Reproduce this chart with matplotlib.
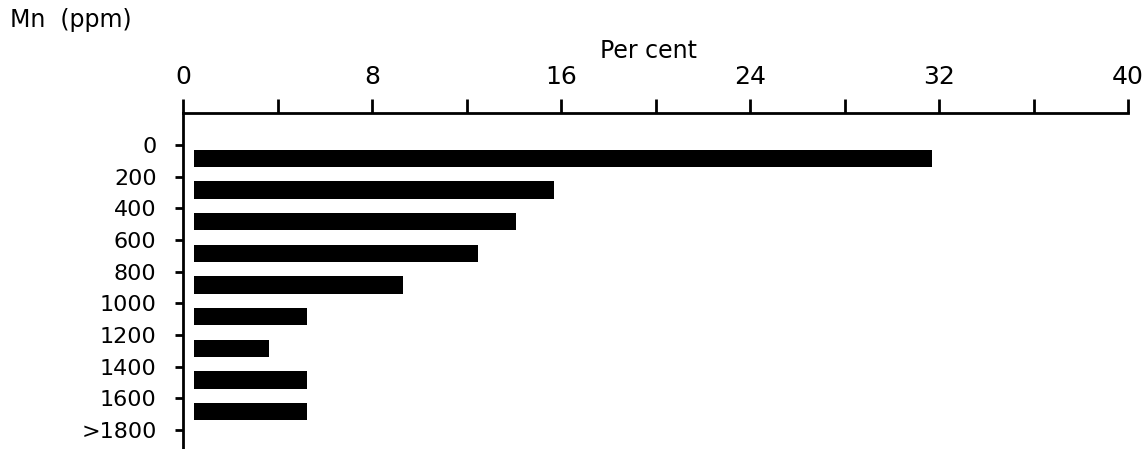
import matplotlib
matplotlib.use("Agg")
import matplotlib.pyplot as plt
import numpy as np

categories = ["0", "200", "400", "600", "800", "1000", "1200", "1400", "1600", ">1800"]
percent = [31.7, 15.7, 14.1, 12.5, 9.3, 5.25, 3.65, 5.25, 5.25]
x_ticks = [0, 8, 16, 24, 32, 40]

plt.rcParams['font.family'] = ['DejaVu Sans']
W, H = 1148, 449
fig = plt.figure(figsize=(W / 100, H / 100), dpi=100)
left, right, top, bottom = 183, 1128, 113, 449
ax = fig.add_axes([left / W, 1 - bottom / H, (right - left) / W, (bottom - top) / H])

gap = 0.45
ypos = np.arange(len(percent)) + 0.42
ax.barh(ypos, np.array(percent) - gap, left=gap, height=0.55, color="black")

ax.set_xlim(0, 40)
ax.set_ylim(9.6, -1.01)
ax.xaxis.tick_top()
ax.set_xticks(np.arange(0, 41, 4), minor=False)
ax.set_xticklabels([str(v) if v in x_ticks else "" for v in np.arange(0, 41, 4)])
ax.tick_params(axis="x", direction="out", length=10, width=2, labelsize=18, pad=7)
ax.set_yticks(np.arange(len(categories)))
ax.set_yticklabels(categories)
ax.tick_params(axis="y", direction="out", length=6, width=2, labelsize=16, pad=13)
for s in ["right", "bottom"]:
    ax.spines[s].set_visible(False)
for s in ["top", "left"]:
    ax.spines[s].set_linewidth(2)

fig.text(648 / W, 1 - 51 / H, "Per cent", ha="center", va="center", fontsize=17)
fig.text(10 / W, 1 - 20 / H, "Mn  (ppm)", ha="left", va="center", fontsize=17)

fig.savefig("out.png", dpi=100)
